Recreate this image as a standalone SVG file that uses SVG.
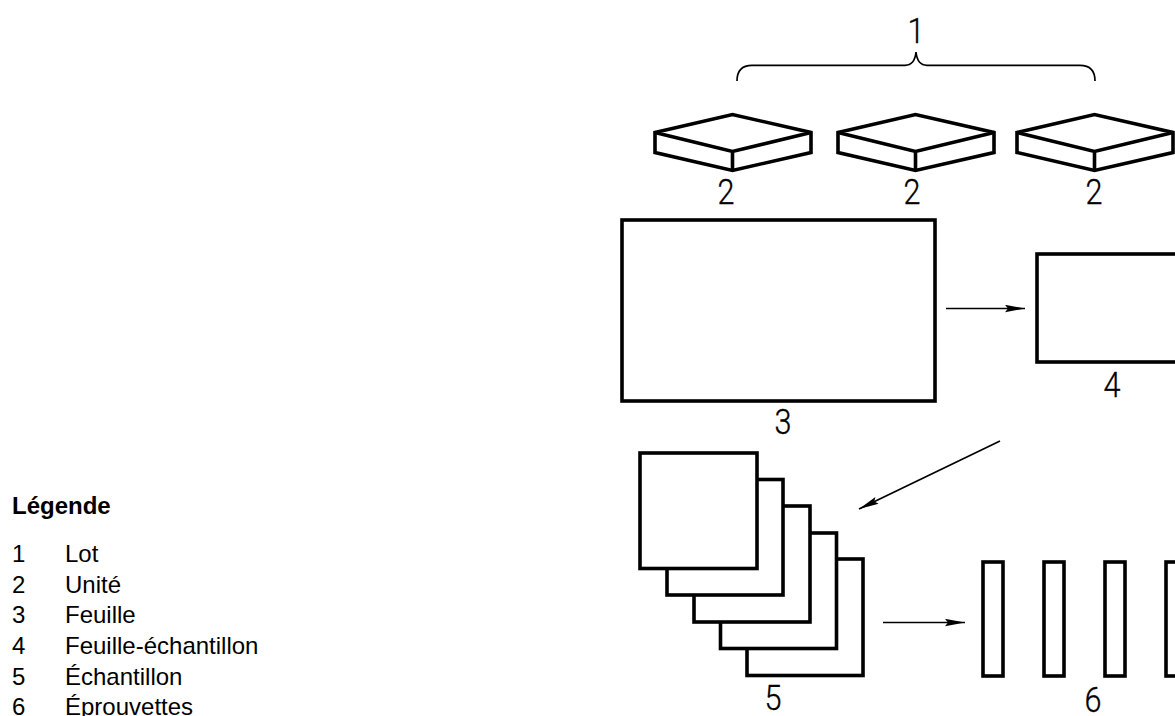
<svg xmlns="http://www.w3.org/2000/svg" width="1175" height="716" viewBox="0 0 1175 716">
<style>
.s{fill:#fff;stroke:#000;stroke-width:3.6;stroke-linejoin:miter}
.c{fill:none;stroke:#000;stroke-width:1.7}
.t{font-family:"Liberation Sans",Arial,sans-serif;font-size:24px;fill:#000}
.b{font-weight:700}
.d{font-family:Roboto,"Liberation Sans",sans-serif;font-weight:300;font-size:36px;text-anchor:middle;fill:#000;stroke:#000;stroke-width:.35}
</style>
<defs>
<marker id="a" markerUnits="userSpaceOnUse" markerWidth="20" markerHeight="8" refX="20" refY="4" orient="auto"><path d="M0 .3 L20 4 L0 7.700 L3 4Z" fill="#000"/></marker>
<g id="plate"><path class="s" d="M0 18 L77.500 0 L156 18 L156 38 L77.500 56 L0 38Z"/><path class="s" fill="none" d="M0 18 L77.500 37 L156 18 M77.500 37 L77.500 56"/></g>
</defs>
<rect width="1175" height="716" fill="#fff"/>
<g id="legend">
<text class="t b" x="12" y="514">Légende</text>
<text class="t" x="12" y="562">1</text><text class="t" x="65" y="562">Lot</text>
<text class="t" x="12" y="592.700">2</text><text class="t" x="65" y="592.700">Unité</text>
<text class="t" x="12" y="623.400">3</text><text class="t" x="65" y="623.400">Feuille</text>
<text class="t" x="12" y="654">4</text><text class="t" x="65" y="654">Feuille-échantillon</text>
<text class="t" x="12" y="684.800">5</text><text class="t" x="65" y="684.800">Échantillon</text>
<text class="t" x="12" y="715">6</text><text class="t" x="65" y="715">Éprouvettes</text>
</g>
<g id="connectors">
<path class="c" d="M737 81 C737 71 742 65.300 752 65.300 L905 65.300 C911 65.300 915 62 916 52 C917 62 921 65.300 927 65.300 L1080 65.300 C1090 65.300 1095 71 1095 81"/>
<path class="c" marker-end="url(#a)" d="M946 308.500 L1025 308.500"/>
<path class="c" marker-end="url(#a)" d="M1000 441 L859 509"/>
<path class="c" marker-end="url(#a)" d="M883 622.500 L965 622.500"/>
</g>
<g id="node-1"><text class="d" transform="translate(916 43) scale(.85 1)">1</text></g>
<g id="node-2a"><use href="#plate" x="655" y="114.500"/><text class="d" transform="translate(726 204) scale(.85 1)">2</text></g>
<g id="node-2b"><use href="#plate" x="838" y="114.500"/><text class="d" transform="translate(912 204) scale(.85 1)">2</text></g>
<g id="node-2c"><use href="#plate" x="1017" y="114.500"/><text class="d" transform="translate(1094 204) scale(.85 1)">2</text></g>
<g id="node-3"><rect class="s" x="622" y="220" width="313" height="181"/><text class="d" transform="translate(783 434) scale(.85 1)">3</text></g>
<g id="node-4"><rect class="s" x="1037" y="254" width="145" height="108"/><text class="d" transform="translate(1112 397) scale(.85 1)">4</text></g>
<g id="node-5">
<rect class="s" x="747" y="559" width="116" height="116.500"/>
<rect class="s" x="720.500" y="533" width="116" height="115.500"/>
<rect class="s" x="694" y="506" width="116" height="116"/>
<rect class="s" x="667" y="479.500" width="116" height="115.500"/>
<rect class="s" x="640" y="453" width="117" height="115.500"/>
<text class="d" transform="translate(773 710) scale(.85 1)">5</text>
</g>
<g id="node-6">
<rect class="s" x="983" y="562" width="20" height="114"/>
<rect class="s" x="1044" y="562" width="20" height="114"/>
<rect class="s" x="1105" y="562" width="20" height="114"/>
<rect class="s" x="1166" y="562" width="20" height="114"/>
<text class="d" transform="translate(1093 712) scale(.85 1)">6</text>
</g>
</svg>
